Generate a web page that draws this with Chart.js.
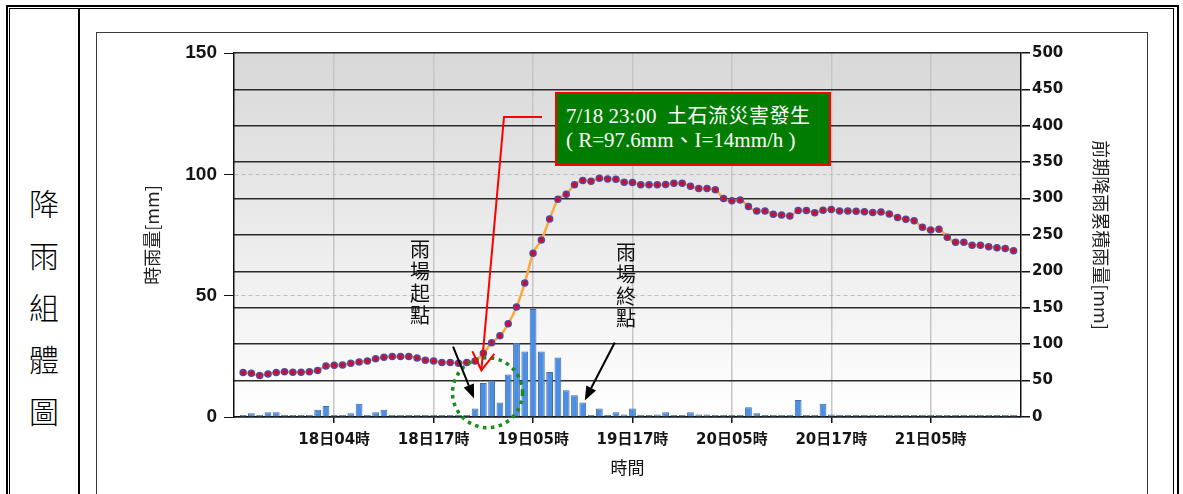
<!DOCTYPE html>
<html>
<head>
<meta charset="utf-8">
<script src="https://cdn.jsdelivr.net/npm/chart.js@4.4.1/dist/chart.umd.min.js"></script>
<style>
  body { margin: 0; width: 1183px; height: 494px; overflow: hidden; background: #fff; position: relative; }
  .outer { position: absolute; left: 6px; top: 5px; width: 1169px; height: 600px; border: 2px solid #000; }
  .inner { position: absolute; left: 9px; top: 8px; width: 1163px; height: 600px; border: 1px solid #000; }
  .divider { position: absolute; left: 78px; top: 9px; width: 2px; height: 600px; background: #000; }
  .side { position: absolute; left: 10px; top: 176px; width: 68px; text-align: center;
          font-family: "Noto Sans CJK TC", serif; font-weight: 300; font-size: 30px; line-height: 52px; color: #000; }
  .chartbox { position: absolute; left: 96px; top: 32px; width: 1050px; height: 600px; border: 1.5px solid #3a3a3a; }
  #rainChart { position: absolute; left: 97px; top: 33px; }
  .note { position: absolute; left: 555px; top: 92px; width: 272px; height: 70px; background: #007d00;
          border: 2px solid #ff0000; color: #fff; font-family: "Liberation Serif", "Noto Sans CJK TC", serif;
          font-size: 21px; line-height: 24px; padding: 0; }
  .note div { position: absolute; left: 9px; white-space: nowrap; }
  .note .cjk { font-size: 20px; letter-spacing: 0.5px; }
  .vtext { position: absolute; width: 22px; text-align: center; font-family: "Noto Sans CJK TC", sans-serif;
           font-size: 20px; line-height: 22px; color: #111; }
</style>
</head>
<body>
<div class="outer"></div>
<div class="inner"></div>
<div class="divider"></div>
<div class="side">降<br>雨<br>組<br>體<br>圖</div>
<div class="chartbox"></div>
<canvas id="rainChart" width="1050" height="461"></canvas>
<div class="note">
  <div style="top:10px">7/18 23:00&nbsp;&nbsp;<span class="cjk">土石流災害發生</span></div>
  <div style="top:34px">( R=97.6mm、I=14mm/h )</div>
</div>
<div class="vtext" style="left:409px; top:238px">雨<br>場<br>起<br>點</div>
<div class="vtext" style="left:615px; top:241px">雨<br>場<br>終<br>點</div>

<script>
// 時間軸刻度 (以小時序號表示)
const tickIdx = [11, 23, 35, 47, 59, 71, 83];
const tickLabels = ["18日04時", "18日17時", "19日05時", "19日17時", "20日05時", "20日17時", "21日05時"];

// 時雨量 (mm)
const hourlyRain = [
    0.5, 1.5, 0, 2, 2, 0, 0, 0, 0, 3, 4.5, 0,
    0, 1.5, 5.5, 0, 2, 3, 0, 0, 0, 0, 0, 0,
    0, 0, 0, 0, 3.5, 14, 15, 6, 17.5, 30.5, 27, 44.5,
    27, 18.5, 24.5, 11, 9, 6, 0, 3.5, 0, 2, 1, 3.5,
    0, 0, 1, 2, 0, 0, 2, 1, 1, 0, 0, 0,
    0, 4, 1.5, 0, 0, 0, 0, 7, 0, 0, 5.5, 1,
    0, 0, 0, 0, 0, 0, 0, 0, 0, 0, 0, 0,
    0, 0, 0, 0, 0, 0, 0, 0, 0, 0
];

// 前期降雨累積雨量 (mm)
const cumRain = [
    61, 60, 57, 59, 61, 62, 61.5, 61.5, 62, 64, 70, 71,
    71.5, 74, 75.5, 77, 80, 82, 83, 83, 83, 81, 78, 77,
    75, 75, 74, 75, 77, 87.5, 102, 111.5, 128, 151, 184, 225,
    243, 272, 299, 306, 319, 325, 324, 328, 327, 326.5, 322.5, 322,
    319, 319, 319, 319.5, 321, 321, 317, 314, 314, 312, 300, 297,
    298, 289, 283, 283, 278.5, 277.5, 276, 283.5, 283.5, 280.5, 284, 285,
    283, 283, 282.5, 282, 281, 281.5, 279, 274, 271.5, 269.5, 260.5, 257,
    258, 247, 240, 240, 236, 236, 234, 232.5, 231.5, 228.5
];

// 雨場起點 / 終點 / 災害發生時刻
const startIdx = 28;
const endIdx = 41;
const eventIdx = 29;

const tickFont = "'DejaVu Sans', 'Noto Sans CJK TC', sans-serif";
const titleFont = "'Noto Sans CJK TC', sans-serif";

// 繪圖區底色 (上灰下白漸層)
const plotBg = {
    id: "plotBg",
    beforeDraw(chart) {
        const { ctx, chartArea: a } = chart;
        const g = ctx.createLinearGradient(0, a.top, 0, a.bottom);
        g.addColorStop(0, "#d8d8d8");
        g.addColorStop(1, "#ffffff");
        ctx.save();
        ctx.fillStyle = g;
        ctx.fillRect(a.left, a.top, a.right - a.left, a.bottom - a.top);
        ctx.restore();
    },
};

function blackArrow(ctx, tipX, tipY, dx, dy) {
    const ang = Math.atan2(-dy, -dx);
    const len = 14, half = 5.5;
    const bx = tipX - Math.cos(ang) * len, by = tipY - Math.sin(ang) * len;
    ctx.save();
    ctx.strokeStyle = "#000";
    ctx.fillStyle = "#000";
    ctx.lineWidth = 2;
    ctx.beginPath();
    ctx.moveTo(tipX + dx, tipY + dy);
    ctx.lineTo(bx, by);
    ctx.stroke();
    ctx.beginPath();
    ctx.moveTo(tipX, tipY);
    ctx.lineTo(bx + Math.sin(ang) * half, by - Math.cos(ang) * half);
    ctx.lineTo(bx - Math.sin(ang) * half, by + Math.cos(ang) * half);
    ctx.closePath();
    ctx.fill();
    ctx.restore();
}

// 標註: 綠色虛線圈、黑色箭頭、紅色箭頭
const marks = {
    id: "marks",
    afterDraw(chart) {
        const { ctx } = chart;
        const x = chart.scales.x, yL = chart.scales.y, yR = chart.scales.y2;

        ctx.save();
        ctx.strokeStyle = "#1a8c1a";
        ctx.lineWidth = 3.5;
        ctx.setLineDash([3.5, 4.5]);
        ctx.beginPath();
        ctx.arc(x.getPixelForValue(eventIdx + 0.5), yL.getPixelForValue(10), 35, 0, Math.PI * 2);
        ctx.stroke();
        ctx.restore();

        blackArrow(ctx, x.getPixelForValue(startIdx) - 1, yL.getPixelForValue(hourlyRain[startIdx]) - 10, -21, -52);
        blackArrow(ctx, x.getPixelForValue(endIdx) + 2, yL.getPixelForValue(hourlyRain[endIdx]) - 2, 30, -58);

        // 紅色箭頭由說明框指向災害發生點
        const tx = x.getPixelForValue(eventIdx) - 2;
        const ty = yR.getPixelForValue(cumRain[eventIdx]) + 17;
        ctx.save();
        ctx.strokeStyle = "#ff0000";
        ctx.lineWidth = 2;
        ctx.beginPath();
        ctx.moveTo(445, 84);
        ctx.lineTo(407, 84);
        ctx.lineTo(tx, ty);
        ctx.stroke();
        ctx.beginPath();
        ctx.moveTo(tx - 9, ty - 19);
        ctx.lineTo(tx, ty);
        ctx.lineTo(tx + 13, ty - 16.5);
        ctx.stroke();
        ctx.restore();
    },
};

new Chart(document.getElementById("rainChart"), {
    type: "bar",
    data: {
        datasets: [
            {
                type: "line",
                label: "前期降雨累積雨量",
                data: cumRain.map((v, i) => ({ x: i, y: v })),
                yAxisID: "y2",
                borderColor: "#f8a940",
                borderWidth: 2.5,
                cubicInterpolationMode: "monotone",
                pointRadius: 2.9,
                pointBackgroundColor: "#e8001c",
                pointBorderColor: "#5b4597",
                pointBorderWidth: 1.7,
                order: 0,
            },
            {
                type: "bar",
                label: "時雨量",
                data: hourlyRain.map((v, i) => ({ x: i, y: v })),
                yAxisID: "y",
                backgroundColor: "#4a8ee6",
                borderColor: "#4b6b9c",
                borderWidth: 1,
                minBarLength: 2,
                categoryPercentage: 1,
                barPercentage: 0.82,
                order: 1,
            },
        ],
    },
    options: {
        responsive: false,
        devicePixelRatio: 1,
        animation: false,
        layout: { padding: { top: 20, left: 0, right: 0, bottom: 0 } },
        plugins: {
            legend: { display: false },
            tooltip: { enabled: false },
        },
        scales: {
            x: {
                type: "linear",
                offset: false,
                bounds: "data",
                min: -1.1,
                max: 93.9,
                afterBuildTicks: (scale) => {
                    scale.ticks = tickIdx.map((v) => ({ value: v }));
                },
                afterFit: (scale) => { scale.height = 77; },
                ticks: {
                    autoSkip: false,
                    maxRotation: 0,
                    padding: 8,
                    color: "#151515",
                    font: { family: tickFont, size: 15, weight: "bold" },
                    callback: (v, i) => tickLabels[i],
                },
                grid: { offset: false, color: "#c6c6c6", lineWidth: 1.5, tickColor: "#111", tickLength: 6 },
                border: { color: "#111", width: 1.5 },
                title: {
                    display: true,
                    text: "時間",
                    color: "#111",
                    padding: { top: 0, bottom: 16 },
                    font: { family: titleFont, size: 17 },
                },
            },
            y: {
                position: "left",
                min: 0,
                max: 150,
                afterFit: (scale) => { scale.width = 137; },
                ticks: {
                    stepSize: 50,
                    padding: 7,
                    color: "#151515",
                    font: { family: "'Liberation Sans', sans-serif", size: 19, weight: "bold" },
                },
                grid: {
                    color: (c) => (c.tick && (c.tick.value === 0 || c.tick.value === 150) ? "rgba(0,0,0,0)" : "#bdbdbd"),
                    lineWidth: 1,
                    tickColor: "#111",
                    tickLength: 10,
                    tickBorderDash: [],
                },
                border: { color: "#111", width: 1.5, dash: [4, 3] },
                title: {
                    display: true,
                    text: "時雨量[mm]",
                    color: "#222",
                    padding: { top: 44, bottom: 0 },
                    font: { family: titleFont, size: 18 },
                },
            },
            y2: {
                position: "right",
                min: 0,
                max: 500,
                afterFit: (scale) => { scale.width = 126; },
                ticks: {
                    stepSize: 50,
                    padding: 2,
                    color: "#151515",
                    font: { family: "'DejaVu Sans', sans-serif", size: 15, weight: "bold" },
                },
                grid: { color: "#2a2a2a", lineWidth: 1.5, tickColor: "#111", tickLength: 9 },
                border: { color: "#111", width: 1.5 },
                title: {
                    display: true,
                    text: "前期降雨累積雨量[mm]",
                    color: "#222",
                    padding: { top: 35, bottom: 0 },
                    font: { family: titleFont, size: 18 },
                },
            },
        },
    },
    plugins: [plotBg, marks],
});
</script>
</body>
</html>
